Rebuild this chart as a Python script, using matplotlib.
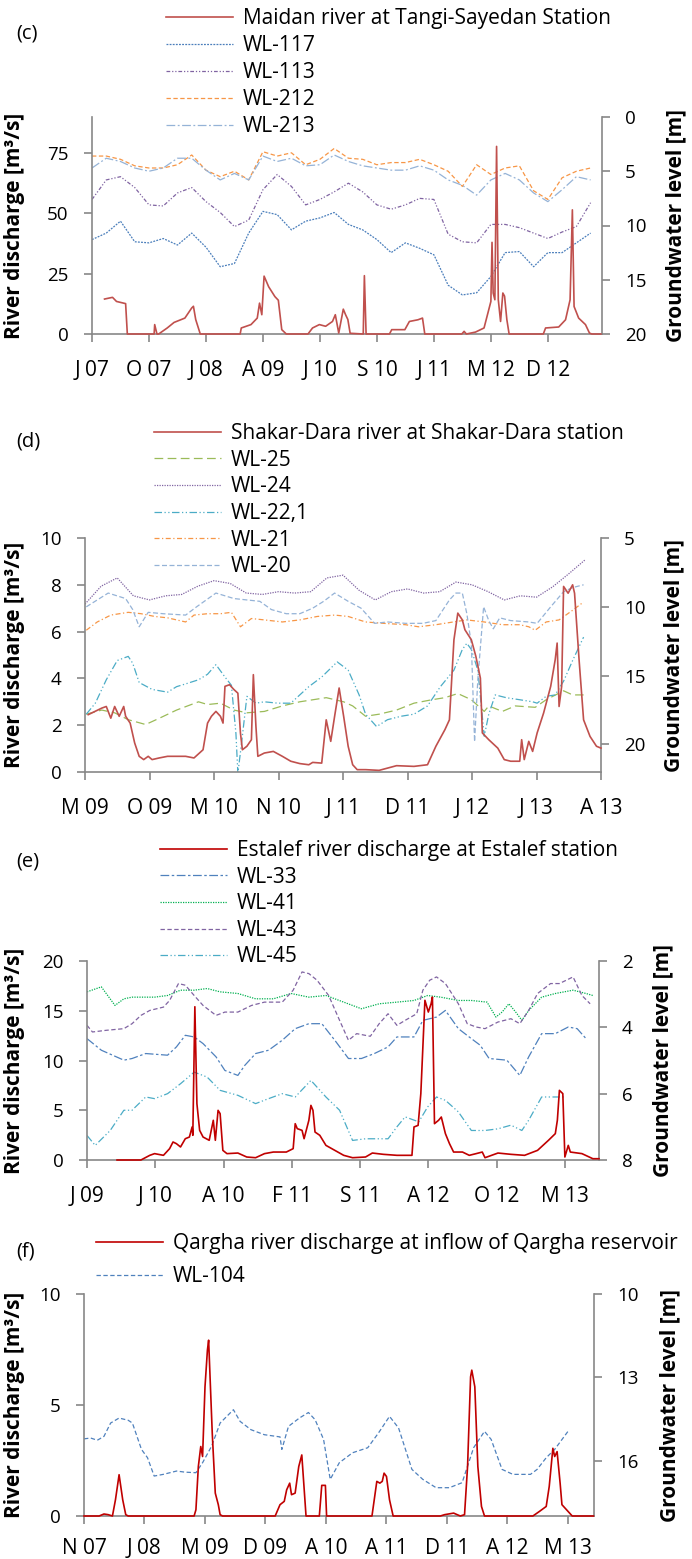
import numpy as np
import matplotlib
matplotlib.use('Agg')
import matplotlib.pyplot as plt

plt.rcParams['font.family'] = ['Open Sans', 'DejaVu Sans']

# ---- panel (c): Maidan river -------------------------------------------
c_ticks = ['J 07', 'O 07', 'J 08', 'A 09', 'J 10', 'S 10', 'J 11', 'M 12', 'D 12']
c_gw_x = np.arange(36) * 0.25
c_wl117 = [11.3, 10.7, 9.6, 11.5, 11.6, 11.2, 11.8, 10.7, 12.0, 13.8, 13.5, 10.7, 8.7, 9.0, 10.4, 9.6, 9.3, 8.8,
           9.9, 10.4, 11.3, 12.5, 11.6, 12.1, 12.7, 15.5, 16.4, 16.2, 14.7, 12.5, 12.4, 13.8, 12.5, 12.5, 11.6, 10.7]
c_wl113 = [7.6, 5.8, 5.5, 6.5, 8.1, 8.2, 7.0, 6.5, 7.8, 8.8, 10.1, 9.5, 6.7, 5.3, 6.4, 8.1, 7.6, 6.9,
           6.1, 6.9, 8.1, 8.5, 8.1, 7.5, 7.6, 10.8, 11.5, 11.6, 9.9, 9.9, 10.2, 10.7, 11.2, 10.6, 10.1, 7.9]
c_wl212 = [3.6, 3.6, 3.9, 4.5, 4.7, 4.7, 4.4, 3.5, 4.9, 5.5, 5.0, 5.8, 3.2, 3.6, 3.3, 4.4, 3.9, 2.9,
           3.8, 3.9, 4.4, 4.2, 4.2, 3.9, 4.4, 5.0, 6.4, 4.4, 5.3, 4.7, 4.5, 6.8, 7.6, 5.6, 5.0, 4.7]
c_wl213 = [4.7, 3.8, 4.1, 4.7, 5.0, 4.7, 3.8, 3.8, 4.9, 5.8, 5.2, 5.8, 3.6, 4.1, 3.8, 4.5, 4.4, 3.5,
           4.1, 4.5, 4.7, 4.9, 4.9, 4.5, 4.9, 5.8, 6.3, 7.2, 5.8, 5.2, 5.8, 7.0, 7.8, 6.7, 5.5, 5.8]
c_q_x = [0.22, 0.36, 0.43, 0.59, 0.62, 1.09, 1.10, 1.14, 1.17, 1.32, 1.44, 1.63, 1.75, 1.78, 1.82, 1.90,
         2.60, 2.62, 2.79, 2.90, 2.94, 2.98, 3.02, 3.10, 3.21, 3.27, 3.33, 3.41, 3.79, 3.87, 3.99, 4.10,
         4.22, 4.27, 4.33, 4.41, 4.45, 4.49, 4.53, 4.76, 4.78, 4.81, 5.22, 5.26, 5.49, 5.57, 5.72, 5.80,
         5.84, 6.49, 6.53, 6.57, 6.73, 6.88, 7.00, 7.02, 7.04, 7.07, 7.10, 7.13, 7.17, 7.21, 7.24, 7.28,
         7.32, 7.92, 7.96, 8.19, 8.31, 8.39, 8.43, 8.46, 8.54, 8.66, 8.73, 8.77, 8.93]
c_q = [14.5, 15.2, 13.5, 12.6, 0, 0, 3.9, 0, 0, 2.5, 4.8, 6.6, 10.8, 11.5, 6.0, 0,
       0, 2.5, 3.9, 6.6, 12.8, 8.0, 24.0, 19.6, 15.5, 14.0, 1.8, 0, 0, 2.5, 3.9, 3.2,
       5.2, 8.0, 0.4, 10.3, 8.0, 6.0, 0.3, 0, 24.2, 0, 0, 1.8, 1.8, 5.2, 5.9, 6.6,
       0, 0, 1.1, 0, 0.8, 2.5, 13.5, 38.0, 17.0, 14.2, 77.8, 14.2, 5.2, 17.0, 15.7, 6.0,
       0, 0, 2.5, 2.9, 5.9, 14.2, 51.5, 11.4, 6.6, 3.9, 0.4, 0, 0]

# ---- panel (d): Shakar-Dara river ---------------------------------------
d_ticks = ['M 09', 'O 09', 'M 10', 'N 10', 'J 11', 'D 11', 'J 12', 'J 13', 'A 13']
d_wl25_x = [0.02, 0.26, 0.46, 0.67, 0.94, 1.15, 1.42, 1.76, 1.90, 2.10, 2.31, 2.51, 2.78, 3.06, 3.33, 3.74,
            4.01, 4.15, 4.35, 4.56, 4.83, 5.10, 5.38, 5.58, 5.78, 5.99, 6.19, 6.26, 6.47, 6.67, 6.98, 7.15,
            7.42, 7.56, 7.73]
d_wl25 = [17.8, 17.5, 17.7, 18.2, 18.55, 18.1, 17.5, 16.9, 17.1, 17.0, 17.5, 17.7, 17.6, 17.2, 16.9, 16.6,
          16.9, 17.2, 17.95, 17.8, 17.5, 17.0, 16.75, 16.6, 16.3, 16.75, 17.6, 17.2, 17.6, 17.2, 17.3, 16.75,
          16.1, 16.4, 16.4]
d_wl24_x = np.arange(32) * 0.25
d_wl24 = [9.8, 8.5, 7.9, 9.2, 9.5, 9.2, 9.1, 8.5, 8.1, 8.3, 9.0, 9.1, 8.9, 9.0, 8.9, 7.9, 7.7, 8.8,
          9.5, 8.9, 8.7, 9.0, 8.9, 8.2, 8.4, 8.9, 9.5, 9.2, 9.3, 8.55, 7.6, 6.6]
d_wl22_x = [0.02, 0.16, 0.33, 0.50, 0.67, 0.74, 0.84, 1.04, 1.28, 1.42, 1.56, 1.76, 1.90, 2.03, 2.17, 2.27,
            2.34, 2.37, 2.43, 2.51, 2.65, 2.78, 2.99, 3.19, 3.47, 3.67, 3.91, 4.08, 4.25, 4.35, 4.52, 4.69,
            4.90, 5.10, 5.31, 5.51, 5.72, 5.85, 5.92, 5.99, 6.09, 6.19, 6.26, 6.36, 6.53, 6.74, 6.94, 7.01,
            7.15, 7.29, 7.42, 7.56, 7.73]
d_wl22 = [17.8, 17.0, 15.3, 13.9, 13.6, 14.1, 15.5, 16.0, 16.2, 15.8, 15.6, 15.3, 14.9, 14.2, 15.1, 15.7,
          19.2, 22.1, 19.8, 16.5, 17.0, 16.9, 17.0, 17.0, 15.8, 15.1, 14.0, 14.6, 16.4, 17.8, 18.7, 18.2,
          17.95, 17.8, 17.2, 15.8, 14.6, 13.1, 12.65, 13.1, 14.6, 19.4, 17.8, 16.4, 16.6, 16.75, 16.9, 17.0,
          16.5, 16.4, 15.4, 13.9, 12.2]
d_wl21_x = [0.02, 0.19, 0.40, 0.67, 0.87, 1.08, 1.28, 1.56, 1.69, 1.90, 2.10, 2.27, 2.41, 2.58, 2.78, 3.06,
            3.33, 3.60, 3.87, 4.08, 4.35, 4.63, 4.97, 5.17, 5.44, 5.71, 5.92, 6.19, 6.47, 6.74, 6.88, 6.98,
            7.15, 7.35, 7.56, 7.73]
d_wl21 = [11.7, 11.1, 10.6, 10.4, 10.5, 10.7, 10.8, 11.1, 10.6, 10.5, 10.5, 10.4, 11.45, 10.85, 10.95, 11.1,
          10.95, 10.7, 10.6, 10.7, 11.1, 11.2, 11.3, 11.45, 11.3, 11.1, 10.95, 11.1, 11.3, 11.3, 11.45, 11.7,
          11.1, 10.95, 10.25, 9.65]
d_wl20_x = [0.02, 0.36, 0.63, 0.74, 0.84, 0.98, 1.21, 1.56, 1.73, 2.03, 2.31, 2.71, 2.89, 3.12, 3.33, 3.53,
            3.70, 3.87, 4.08, 4.28, 4.49, 4.69, 4.97, 5.24, 5.44, 5.65, 5.75, 5.85, 5.92, 5.99, 6.04, 6.09,
            6.18, 6.26, 6.33, 6.43, 6.60, 6.88, 7.01, 7.22, 7.42, 7.56, 7.73]
d_wl20 = [10.0, 9.0, 9.4, 10.2, 11.45, 10.4, 10.5, 10.6, 10.0, 9.0, 9.4, 9.6, 10.2, 10.5, 10.5, 10.1,
          9.6, 9.0, 9.6, 10.1, 11.2, 11.1, 11.2, 11.2, 11.0, 9.5, 9.0, 9.0, 10.5, 12.7, 19.8, 15.3,
          10.0, 11.0, 11.6, 10.8, 11.0, 11.1, 11.2, 10.0, 8.9, 8.6, 8.4]
d_q_x = [0.05, 0.26, 0.33, 0.40, 0.46, 0.53, 0.60, 0.63, 0.70, 0.77, 0.84, 0.91, 0.98, 1.04, 1.15, 1.28,
         1.42, 1.56, 1.69, 1.83, 1.90, 1.96, 2.03, 2.10, 2.14, 2.17, 2.24, 2.31, 2.37, 2.41, 2.44, 2.51,
         2.58, 2.61, 2.65, 2.68, 2.78, 2.92, 3.06, 3.19, 3.33, 3.47, 3.53, 3.67, 3.74, 3.81, 3.87, 3.94,
         4.01, 4.08, 4.15, 4.22, 4.35, 4.56, 4.83, 5.10, 5.31, 5.44, 5.58, 5.65, 5.72, 5.78, 5.85, 5.89,
         5.99, 6.06, 6.13, 6.16, 6.26, 6.40, 6.50, 6.60, 6.74, 6.77, 6.81, 6.88, 6.94, 7.01, 7.11, 7.22,
         7.29, 7.32, 7.35, 7.39, 7.42, 7.49, 7.56, 7.59, 7.66, 7.73, 7.83, 7.93, 8.0]
d_q = [2.45, 2.73, 2.8, 2.3, 2.8, 2.38, 2.8, 2.38, 2.09, 1.24, 0.67, 0.53, 0.67, 0.53, 0.6, 0.67,
       0.67, 0.67, 0.6, 0.95, 2.09, 2.38, 2.59, 2.38, 2.09, 3.66, 3.73, 3.52, 3.37, 1.67, 0.95, 1.1,
       1.38, 4.16, 1.95, 0.67, 0.81, 0.88, 0.67, 0.46, 0.36, 0.31, 0.41, 0.38, 2.23, 1.31, 2.38, 3.59,
       2.38, 1.1, 0.31, 0.1, 0.1, 0.07, 0.27, 0.24, 0.31, 1.1, 1.81, 2.23, 5.65, 6.79, 6.5, 6.08,
       5.65, 4.94, 4.01, 1.67, 1.38, 1.02, 0.53, 0.46, 0.46, 1.38, 0.53, 1.31, 0.88, 1.67, 2.52, 3.66,
       4.8, 5.51, 2.8, 3.66, 7.93, 7.64, 8.0, 7.64, 4.8, 2.23, 1.52, 1.1, 1.02]

# ---- panel (e): Estalef river -------------------------------------------
e_ticks = ['J 09', 'J 10', 'A 10', 'F 11', 'S 11', 'A 12', 'O 12', 'M 13']
e_wl33_x = [0, 0.21, 0.54, 0.66, 0.86, 1.18, 1.31, 1.44, 1.57, 1.70, 1.89, 2.02, 2.21, 2.31, 2.47, 2.66,
            2.86, 3.05, 3.25, 3.44, 3.63, 3.83, 4.02, 4.21, 4.41, 4.54, 4.79, 4.92, 5.12, 5.25, 5.44, 5.63,
            5.76, 5.89, 6.15, 6.34, 6.47, 6.66, 6.86, 7.05, 7.18, 7.31]
e_wl33 = [4.34, 4.69, 4.99, 4.94, 4.79, 4.84, 4.59, 4.24, 4.29, 4.49, 4.89, 5.30, 5.45, 5.15, 4.79, 4.69,
          4.39, 4.04, 3.89, 3.89, 4.39, 4.94, 4.94, 4.79, 4.59, 4.29, 4.29, 3.79, 3.69, 3.49, 4.04, 4.34,
          4.54, 4.94, 4.99, 5.45, 4.89, 4.19, 4.19, 3.99, 4.04, 4.34]
e_wl41_x = [0, 0.21, 0.41, 0.54, 0.66, 0.99, 1.18, 1.37, 1.57, 1.76, 1.95, 2.21, 2.47, 2.73, 2.99, 3.25,
            3.50, 3.76, 4.02, 4.28, 4.54, 4.79, 4.99, 5.18, 5.44, 5.63, 5.86, 5.99, 6.08, 6.18, 6.28, 6.37,
            6.47, 6.66, 6.86, 7.12, 7.31, 7.41]
e_wl41 = [2.93, 2.78, 3.34, 3.14, 3.09, 3.09, 3.04, 2.88, 2.88, 2.83, 2.93, 2.98, 3.14, 3.14, 2.98, 3.09,
          3.04, 3.24, 3.44, 3.29, 3.24, 3.19, 3.04, 3.09, 3.19, 3.19, 3.24, 3.69, 3.54, 3.29, 3.54, 3.79,
          3.49, 3.09, 2.98, 2.88, 2.98, 3.04]
e_wl43_x = [0, 0.08, 0.28, 0.54, 0.66, 0.79, 0.92, 1.12, 1.21, 1.34, 1.44, 1.57, 1.70, 1.89, 2.02, 2.21,
            2.41, 2.60, 2.86, 3.02, 3.15, 3.25, 3.37, 3.54, 3.70, 3.83, 3.95, 4.15, 4.28, 4.41, 4.54, 4.66,
            4.83, 4.92, 5.02, 5.12, 5.25, 5.44, 5.57, 5.70, 5.83, 6.02, 6.21, 6.34, 6.47, 6.60, 6.79, 6.92,
            7.12, 7.25, 7.37]
e_wl43 = [3.94, 4.14, 4.09, 4.04, 3.89, 3.64, 3.49, 3.39, 3.19, 2.68, 2.73, 3.04, 3.34, 3.64, 3.54, 3.54,
          3.34, 3.24, 3.24, 2.88, 2.33, 2.38, 2.58, 3.04, 3.79, 4.39, 4.19, 4.27, 3.89, 3.59, 3.94, 3.79,
          3.59, 2.88, 2.58, 2.48, 2.68, 3.29, 3.89, 3.99, 4.04, 3.84, 3.74, 3.89, 3.49, 2.98, 2.68, 2.68,
          2.48, 3.04, 3.29]
e_wl45_x = [0, 0.12, 0.34, 0.54, 0.66, 0.86, 0.99, 1.18, 1.37, 1.57, 1.76, 1.95, 2.21, 2.47, 2.66, 2.86,
            3.05, 3.28, 3.50, 3.70, 3.89, 4.08, 4.28, 4.41, 4.54, 4.66, 4.86, 4.99, 5.12, 5.25, 5.44, 5.63,
            5.83, 6.02, 6.21, 6.37, 6.47, 6.66, 6.92, 7.02]
e_wl45 = [7.26, 7.56, 7.11, 6.5, 6.5, 6.1, 6.15, 6.0, 5.70, 5.35, 5.50, 5.90, 6.05, 6.30, 6.15, 6.0,
          6.10, 5.60, 6.10, 6.50, 7.41, 7.36, 7.36, 7.36, 7.0, 6.70, 6.85, 6.40, 6.10, 6.20, 6.55, 7.11,
          7.11, 7.06, 6.95, 7.11, 6.80, 6.10, 6.10, 6.10]
e_q_x = [0.44, 0.79, 0.92, 0.99, 1.12, 1.21, 1.26, 1.31, 1.37, 1.44, 1.50, 1.54, 1.55, 1.58, 1.61, 1.65,
         1.70, 1.79, 1.85, 1.88, 1.92, 1.95, 1.99, 2.05, 2.21, 2.34, 2.47, 2.60, 2.73, 2.92, 3.02, 3.05,
         3.08, 3.15, 3.18, 3.25, 3.28, 3.31, 3.34, 3.41, 3.50, 3.63, 3.76, 3.89, 4.08, 4.18, 4.34, 4.54,
         4.76, 4.79, 4.85, 4.89, 4.95, 5.0, 5.04, 5.06, 5.09, 5.15, 5.19, 5.25, 5.31, 5.37, 5.50, 5.60,
         5.70, 5.79, 5.83, 6.02, 6.21, 6.41, 6.60, 6.76, 6.86, 6.89, 6.92, 6.97, 7.0, 7.05, 7.08, 7.25,
         7.41, 7.50]
e_q = [0, 0, 0.47, 0.64, 0.47, 1.14, 1.81, 1.64, 1.31, 2.14, 2.31, 3.32, 2.48, 15.4, 5.66, 2.98,
       2.31, 1.98, 3.99, 1.98, 4.99, 4.66, 0.97, 0.64, 0.7, 0.3, 0.23, 0.64, 0.8, 0.8, 1.14, 3.65,
       3.15, 2.98, 2.14, 3.99, 5.49, 4.99, 2.81, 2.48, 1.47, 0.97, 0.47, 0.23, 0.3, 0.7, 0.57, 0.47,
       0.47, 3.32, 3.48, 6.67, 16.05, 14.87, 15.7, 16.38, 3.65, 3.99, 4.32, 2.65, 1.64, 0.8, 0.8, 0.47,
       0.64, 0.8, 0.23, 0.7, 0.57, 0.47, 0.97, 1.98, 2.65, 3.99, 7.0, 6.67, 0.3, 1.47, 0.8, 0.64,
       0.13, 0.13]

# ---- panel (f): Qargha river --------------------------------------------
f_ticks = ['N 07', 'J 08', 'M 09', 'D 09', 'A 10', 'A 11', 'D 11', 'A 12', 'M 13']
f_wl104_x = [0, 0.11, 0.22, 0.33, 0.44, 0.58, 0.73, 0.80, 0.95, 1.05, 1.16, 1.31, 1.53, 1.67, 1.85, 1.96,
             2.11, 2.25, 2.36, 2.47, 2.58, 2.76, 2.98, 3.24, 3.27, 3.38, 3.56, 3.71, 3.82, 3.96, 4.07, 4.22,
             4.44, 4.69, 4.87, 5.05, 5.20, 5.42, 5.60, 5.82, 6.04, 6.25, 6.44, 6.62, 6.73, 6.91, 7.09, 7.38,
             7.49, 7.64, 7.78, 8.0]
f_wl104 = [15.22, 15.19, 15.27, 15.13, 14.65, 14.47, 14.55, 14.65, 15.6, 15.9, 16.56, 16.5, 16.38, 16.42,
           16.44, 16.08, 15.48, 14.65, 14.41, 14.17, 14.59, 14.89, 15.07, 15.15, 15.6, 14.77, 14.47, 14.27,
           14.53, 15.24, 16.68, 16.08, 15.72, 15.54, 15.0, 14.41, 14.83, 16.32, 16.68, 16.98, 16.98, 16.8,
           15.54, 14.95, 15.24, 16.32, 16.5, 16.5, 16.32, 15.9, 15.6, 14.95]
f_q_x = [0, 0.25, 0.33, 0.40, 0.47, 0.52, 0.58, 0.64, 0.69, 0.73, 1.82, 1.85, 1.89, 1.93, 1.96, 2.0,
         2.04, 2.06, 2.09, 2.12, 2.17, 2.22, 2.25, 2.29, 3.16, 3.24, 3.31, 3.35, 3.40, 3.43, 3.49, 3.55,
         3.60, 3.64, 3.67, 3.89, 3.93, 3.99, 4.01, 4.76, 4.84, 4.89, 4.93, 4.96, 5.0, 5.05, 5.11, 5.89,
         5.96, 6.11, 6.22, 6.29, 6.34, 6.39, 6.41, 6.46, 6.51, 6.57, 6.62, 7.42, 7.53, 7.64, 7.69, 7.75,
         7.78, 7.82, 7.87, 7.90, 8.0, 8.07, 8.42]
f_q = [0, 0, 0.09, 0.06, 0, 0.73, 1.86, 0.73, 0.06, 0, 0, 0.28, 2.23, 3.13, 2.68, 5.82,
       7.47, 7.92, 5.82, 3.73, 1.03, 0.51, 0.06, 0, 0, 0.51, 0.66, 1.18, 1.48, 0.96, 1.03, 2.23,
       2.75, 1.18, 0, 0, 1.38, 1.38, 0, 0, 1.56, 1.48, 1.56, 1.93, 1.78, 0.73, 0, 0,
       0.06, 0.13, 0, 0.06, 2.23, 6.27, 6.57, 5.82, 2.23, 0.43, 0, 0, 0.21, 0.43, 1.33, 3.05,
       2.68, 2.9, 1.48, 0.51, 0.21, 0, 0]

W, H = 692.0, 1559.0
GRAY = '#878787'
fig = plt.figure(figsize=(W / 100, H / 100), dpi=100)


def draw_panel(box, tag, tag_y, q_x, q, q_label, q_color, wells, ticks, xmax,
               q_lim, q_ticks, gw_lim, gw_ticks, leg_xy, leg_space, lab_x, xpad=12.5):
    l, t, r, b = box
    ax = fig.add_axes([l / W, 1 - b / H, (r - l) / W, (b - t) / H])
    ax2 = ax.twinx()
    lines = []
    for name, wx, wy, color, dashes in wells:
        ln, = ax2.plot(wx, wy, color=color, lw=0.9, dashes=dashes, label=name)
        lines.append(ln)
    qln, = ax.plot(q_x, q, color=q_color, lw=1.2, label=q_label, zorder=3, clip_on=False)
    ax.set_zorder(ax2.get_zorder() + 1)
    ax.patch.set_visible(False)

    ax.set_xlim(0, xmax)
    ax.set_xticks(range(len(ticks)))
    ax.set_xticklabels(ticks)
    ax.set_ylim(*q_lim)
    ax.set_yticks(q_ticks)
    ax2.set_ylim(*gw_lim)
    ax2.set_yticks(gw_ticks)

    for s in ['top', 'right']:
        ax.spines[s].set_visible(False)
    for s in ['top', 'left', 'bottom']:
        ax2.spines[s].set_visible(False)
    for s in [ax.spines['left'], ax.spines['bottom'], ax2.spines['right']]:
        s.set_color(GRAY)
        s.set_linewidth(1.2)
    ax.tick_params(axis='x', length=6, width=1.2, color=GRAY, pad=xpad, labelsize=15)
    ax.tick_params(axis='y', length=6, width=1.2, color=GRAY, pad=11, labelsize=13.5)
    ax2.tick_params(axis='y', length=6, width=1.2, color=GRAY, pad=10.5, labelsize=13.5)

    ax.set_ylabel('River discharge [m³/s]', fontsize=15, fontweight='bold')
    ax2.set_ylabel('Groundwater level [m]', fontsize=15, fontweight='bold')
    ax.yaxis.set_label_coords((lab_x[0] - l) / (r - l), 0.5)
    ax2.yaxis.set_label_coords((lab_x[1] - l) / (r - l), 0.5)

    fig.text(16 / W, 1 - tag_y / H, tag, fontsize=14.5, va='center')
    fig.legend([qln] + lines, [q_label] + [w[0] for w in wells], loc='upper left',
               bbox_to_anchor=(leg_xy[0] / W, 1 - leg_xy[1] / H), frameon=False,
               fontsize=15, borderpad=0, borderaxespad=0, handlelength=3.2,
               handletextpad=0.5, labelspacing=leg_space)


c_wells = [('WL-117', c_gw_x, c_wl117, '#4A7EBB', (1.5, 1)),
           ('WL-113', c_gw_x, c_wl113, '#8064A2', (3, 1.5, 1, 1.5, 1, 1.5)),
           ('WL-212', c_gw_x, c_wl212, '#F79646', (3.5, 2)),
           ('WL-213', c_gw_x, c_wl213, '#95B3D7', (7, 2, 1.5, 2))]
draw_panel((92, 117, 602, 334), '(c)', 33, c_q_x, c_q, 'Maidan river at Tangi-Sayedan Station', '#C0504D',
           c_wells, c_ticks, 8.95, (0, 90), [0, 25, 50, 75], (20, 0), [0, 5, 10, 15, 20],
           (166, 8), 0.29, (25, 665))

d_wells = [('WL-25', d_wl25_x, d_wl25, '#9BBB59', (7, 3.5)),
           ('WL-24', d_wl24_x, d_wl24, '#8064A2', (1, 1)),
           ('WL-22,1', d_wl22_x, d_wl22, '#4BACC6', (6, 2, 1, 2, 1, 2)),
           ('WL-21', d_wl21_x, d_wl21, '#F79646', (4, 2, 1, 2)),
           ('WL-20', d_wl20_x, d_wl20, '#95B3D7', (4, 2))]
draw_panel((85, 538, 601, 772), '(d)', 442, d_q_x, d_q, 'Shakar-Dara river at Shakar-Dara station', '#C0504D',
           d_wells, d_ticks, 8, (0, 10), [0, 2, 4, 6, 8, 10], (22, 5), [5, 10, 15, 20],
           (154, 423), 0.27, (25, 663))

e_wells = [('WL-33', e_wl33_x, e_wl33, '#4F81BD', (7, 2, 2, 2)),
           ('WL-41', e_wl41_x, e_wl41, '#00B050', (1, 1)),
           ('WL-43', e_wl43_x, e_wl43, '#8064A2', (3.5, 2)),
           ('WL-45', e_wl45_x, e_wl45, '#4BACC6', (6, 2, 1, 2, 1, 2))]
draw_panel((87, 961, 599, 1160), '(e)', 862, e_q_x, e_q, 'Estalef river discharge at Estalef station', '#C00000',
           e_wells, e_ticks, 7.5, (0, 20), [0, 5, 10, 15, 20], (8, 2), [2, 4, 6, 8],
           (160, 840), 0.27, (25, 652))

f_wells = [('WL-104', f_wl104_x, f_wl104, '#4F81BD', (3.5, 2))]
draw_panel((84, 1294, 594, 1516), '(f)', 1252, f_q_x, f_q, 'Qargha river discharge at inflow of Qargha reservoir',
           '#C00000', f_wells, f_ticks, 8.43, (0, 10), [0, 5, 10], (18, 10), [10, 13, 16],
           (96, 1233), 0.60, (25, 659), xpad=9.5)

fig.savefig('out.png', dpi=100)
